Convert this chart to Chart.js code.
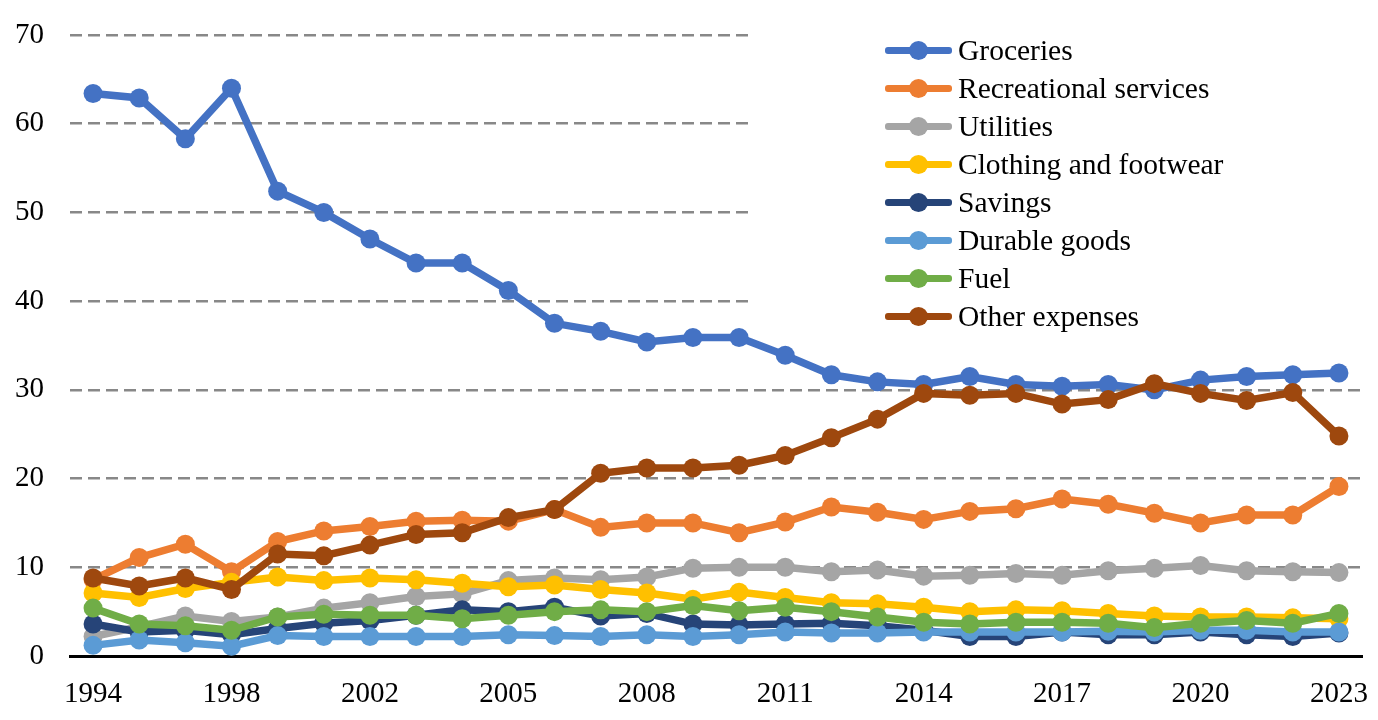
<!DOCTYPE html>
<html>
<head>
<meta charset="utf-8">
<script src="https://cdn.jsdelivr.net/npm/chart.js@4.4.1/dist/chart.umd.min.js"></script>
<style>
  html, body { margin: 0; padding: 0; background: #fff; }
  #wrap { position: relative; width: 1378px; height: 720px; }
  #legend {
    position: absolute; left: 748px; top: 0; width: 630px; height: 331px;
    background: #fff; padding-top: 31px; box-sizing: border-box;
    font-family: "Liberation Serif", "Times New Roman", serif; font-size: 29.5px; color: #000;
  }
  .row { display: flex; align-items: center; height: 38px; padding-left: 137px; }
  .sw { position: relative; width: 67px; height: 7px; border-radius: 3px; }
  .sw i { position: absolute; left: 24px; top: -6px; width: 19px; height: 19px; border-radius: 50%; background: inherit; }
  .row span { margin-left: 6px; white-space: nowrap; }
</style>
</head>
<body>
<div id="wrap">
  <canvas id="chart" width="1378" height="720"></canvas>
  <div id="legend"></div>
</div>
<script>
// years shown every third category
const years = ['1994', '1995', '1996', '1998', '1999', '2000', '2002', '2003', '2004', '2005',
  '2006', '2007', '2008', '2009', '2010', '2011', '2012', '2013', '2014', '2015',
  '2016', '2017', '2018', '2019', '2020', '2021', '2022', '2023'];

const seriesNames = ['Groceries', 'Recreational services', 'Utilities', 'Clothing and footwear',
  'Savings', 'Durable goods', 'Fuel', 'Other expenses'];
const seriesColors = ['#4472C4', '#ED7D31', '#A5A5A5', '#FFC000', '#264478', '#5B9BD5', '#70AD47', '#9E480E'];

const groceries = [63.4, 62.9, 58.3, 64.0, 52.4, 50.0, 47.0, 44.3, 44.3, 41.2, 37.5, 36.6, 35.4, 35.9,
  35.9, 33.9, 31.7, 30.9, 30.6, 31.5, 30.6, 30.4, 30.6, 30.0, 31.1, 31.5, 31.7, 31.9];
const recreational = [8.6, 11.1, 12.6, 9.5, 12.9, 14.1, 14.6, 15.2, 15.3, 15.2, 16.5, 14.5, 15.0, 15.0,
  13.9, 15.1, 16.8, 16.2, 15.4, 16.3, 16.6, 17.7, 17.1, 16.1, 15.0, 15.9, 15.9, 19.1];
const utilities = [2.2, 3.3, 4.5, 3.9, 4.4, 5.4, 6.0, 6.7, 7.0, 8.5, 8.8, 8.6, 8.9, 9.9,
  10.0, 10.0, 9.5, 9.7, 9.0, 9.1, 9.3, 9.1, 9.6, 9.9, 10.2, 9.6, 9.5, 9.4];
const clothing = [7.1, 6.6, 7.6, 8.3, 8.9, 8.5, 8.8, 8.6, 8.2, 7.8, 8.0, 7.5, 7.1, 6.4,
  7.2, 6.6, 6.0, 5.9, 5.5, 5.0, 5.2, 5.1, 4.8, 4.5, 4.4, 4.4, 4.3, 4.2];
const savings = [3.6, 2.7, 2.9, 2.4, 3.1, 3.7, 4.0, 4.6, 5.2, 5.0, 5.5, 4.5, 4.8, 3.6,
  3.5, 3.6, 3.7, 3.4, 2.9, 2.2, 2.2, 2.7, 2.4, 2.4, 2.7, 2.4, 2.2, 2.6];
const durable = [1.2, 1.8, 1.5, 1.1, 2.3, 2.2, 2.2, 2.2, 2.2, 2.4, 2.3, 2.2, 2.4, 2.2,
  2.4, 2.7, 2.6, 2.6, 2.7, 2.7, 2.7, 2.7, 2.8, 2.7, 2.9, 2.9, 2.7, 2.7];
const fuel = [5.4, 3.6, 3.4, 2.9, 4.4, 4.7, 4.6, 4.6, 4.2, 4.6, 5.0, 5.2, 5.0, 5.7,
  5.1, 5.5, 5.0, 4.4, 3.8, 3.6, 3.8, 3.8, 3.7, 3.2, 3.7, 4.0, 3.7, 4.8];
const otherExpenses = [8.8, 7.9, 8.8, 7.5, 11.5, 11.3, 12.5, 13.7, 13.9, 15.6, 16.5, 20.6, 21.2, 21.2,
  21.5, 22.6, 24.6, 26.7, 29.6, 29.4, 29.6, 28.4, 28.9, 30.7, 29.6, 28.8, 29.7, 24.8];

const yTicks = [0, 10, 20, 30, 40, 50, 60, 70];

const allSeries = [groceries, recreational, utilities, clothing, savings, durable, fuel, otherExpenses];

const datasets = allSeries.map((vals, i) => ({
  label: seriesNames[i],
  data: vals,
  borderColor: seriesColors[i],
  backgroundColor: seriesColors[i],
  pointBackgroundColor: seriesColors[i],
  pointBorderWidth: 0,
  pointRadius: 9.5,
  borderWidth: 7.5,
  tension: 0,
  order: -i,   // later series on top, like the original
}));

const tickFont = { family: '"Liberation Serif", "Times New Roman", serif', size: 29 };

new Chart(document.getElementById('chart'), {
  type: 'line',
  data: { labels: years, datasets },
  options: {
    responsive: false,
    animation: false,
    layout: { autoPadding: false, padding: { left: 14, right: 16, top: 35, bottom: 0 } },
    plugins: { legend: { display: false }, tooltip: { enabled: false } },
    scales: {
      x: {
        offset: true,
        grid: { display: false, drawTicks: false },
        border: { display: true, color: '#000', width: 3 },
        ticks: {
          autoSkip: false, maxRotation: 0, color: '#000', font: tickFont, padding: 21,
          callback: (v, idx) => (idx % 3 === 0 ? years[idx] : ''),
        },
        afterFit: (s) => { s.height = 64; s.paddingLeft = 5; s.paddingRight = 5; },
      },
      y: {
        min: 0, max: 70,
        afterBuildTicks: (axis) => { axis.ticks = yTicks.map(v => ({ value: v })); },
        grid: { color: '#888', lineWidth: 2.5, drawTicks: false },
        border: { display: false, dash: [12, 6] },
        ticks: { color: '#000', font: tickFont, padding: 26 },
        afterFit: (s) => { s.width = 56; s.paddingTop = 17; s.paddingBottom = 17; },
      },
    },
  },
});

// legend drawn as html, white box sits over the right part of the top grid lines
const legend = document.getElementById('legend');
seriesNames.forEach((name, i) => {
  const row = document.createElement('div');
  row.className = 'row';
  row.innerHTML = '<div class="sw" style="background:' + seriesColors[i] + '"><i></i></div><span>' + name + '</span>';
  legend.appendChild(row);
});
</script>
</body>
</html>
